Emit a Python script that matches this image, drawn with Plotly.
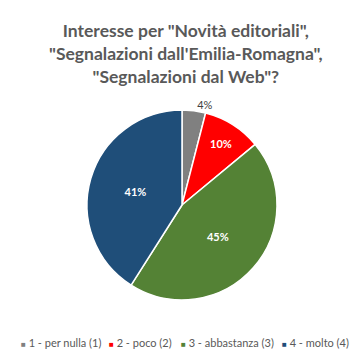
import plotly.graph_objects as go

labels = ["1 - per nulla (1)", "2 - poco (2)", "3 - abbastanza (3)", "4 - molto (4)"]
values = [4, 10, 45, 41]
colors = ["#808080", "#FF0000", "#548235", "#1F4E79"]
text_pos = ["outside", "inside", "inside", "inside"]
text_colors = ["#404040", "#FFFFFF", "#FFFFFF", "#FFFFFF"]
text_weights = ["normal", "bold", "bold", "bold"]
title_text = 'Interesse per "Novità editoriali",<br>"Segnalazioni dall\'Emilia-Romagna",<br>"Segnalazioni dal Web"?'

W, H = 364, 357
OFF = 8  # page body margin: the figure is drawn 8px right/down of the window corner
cx, cy, r = 182 - OFF, 205 - OFF, 95
FONT = "Lato, sans-serif"

fig = go.Figure(go.Pie(
    labels=labels,
    values=values,
    sort=False,
    direction="clockwise",
    rotation=0,
    marker=dict(colors=colors, line=dict(color="white", width=1.5)),
    texttemplate="%{percent:.0%}",
    textposition=text_pos,
    textfont=dict(family=FONT, size=11, color=text_colors, weight=text_weights),
    insidetextorientation="horizontal",
    domain=dict(x=[(cx - r) / W, (cx + r) / W], y=[(H - cy - r) / H, (H - cy + r) / H]),
    showlegend=False,
))

# legend row (Excel style: small square + label), one entry per category
legend_left_px = [19, 107, 179, 280]
legend_y_px = 342
anns = [dict(
    text=title_text,
    x=0.5 - OFF / 2 / W, xref="paper", xanchor="center",
    y=(H - 10) / H, yref="paper", yanchor="top",
    showarrow=False, align="center",
    font=dict(family=FONT, size=17.5, color="#595959", weight="bold"),
)]
for lab, col, lx in zip(labels, colors, legend_left_px):
    anns.append(dict(
        text=f"<span style='color:{col};font-size:8px'>■</span> {lab}",
        x=(lx - OFF) / W, xref="paper", xanchor="left",
        y=(H - (legend_y_px - OFF)) / H, yref="paper", yanchor="middle",
        showarrow=False,
        font=dict(family=FONT, size=11, color="#595959"),
    ))

fig.update_layout(
    width=W, height=H,
    margin=dict(l=0, r=0, t=0, b=0),
    paper_bgcolor="white",
    plot_bgcolor="white",
    showlegend=False,
    annotations=anns,
)

fig.write_html("out.html")
